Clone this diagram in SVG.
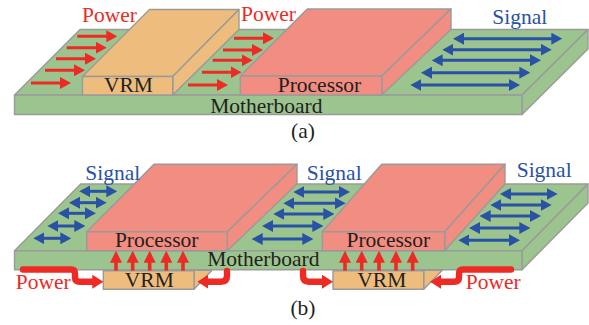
<svg xmlns="http://www.w3.org/2000/svg" width="589" height="325" viewBox="0 0 589 325">
<style>
.b{fill:#9bc48e;stroke:#9a9a9a;stroke-width:1.4;stroke-linejoin:round}
.o{fill:#eebd7e;stroke:#9a9a9a;stroke-width:1.4;stroke-linejoin:round}
.p{fill:#f28d82;stroke:#9a9a9a;stroke-width:1.4;stroke-linejoin:round}
text{font-family:"Liberation Serif","Times New Roman",serif;font-size:21.5px;fill:#231f20}
.r{fill:#ee2a24}
.s{fill:#2a52a4}
.rl{stroke:#ee2a24;stroke-width:3;fill:none}
.bl{stroke:#2a52a4;stroke-width:3;fill:none}
.up{stroke:#ee2a24;stroke-width:3.6;fill:none}
.th{stroke:#ee2a24;stroke-width:6.4;fill:none;stroke-linecap:round;stroke-linejoin:round}
</style>
<defs>
<marker id="mr" markerUnits="userSpaceOnUse" markerWidth="11" markerHeight="12" refX="5" refY="6" orient="auto"><path d="M0 0L11 6L0 12Z" fill="#ee2a24"/></marker>
<marker id="mu" markerUnits="userSpaceOnUse" markerWidth="12" markerHeight="12" refX="6" refY="6" orient="auto"><path d="M0 0L12 6L0 12Z" fill="#ee2a24"/></marker>
<marker id="mt" markerUnits="userSpaceOnUse" markerWidth="11" markerHeight="14" refX="3" refY="7" orient="auto"><path d="M0 0L11 7L0 14Z" fill="#ee2a24"/></marker>
<marker id="me" markerUnits="userSpaceOnUse" markerWidth="11" markerHeight="12" refX="5" refY="6" orient="auto-start-reverse"><path d="M0 0L11 6L0 12Z" fill="#2a52a4"/></marker>
</defs>

<g id="board-a">
<path class="b" d="M14.5 95L80 29.5H588L522 95Z"/>
<path class="b" d="M522 95L588 29.5V49L522 114.5Z"/>
<rect class="b" x="14.5" y="95" width="507.5" height="19.5"/>
<text x="266.300" y="113" text-anchor="middle">Motherboard</text>
</g>
<g id="vrm-a">
<path class="o" d="M82.5 76.5L149.5 9.5H239L172.7 76.5Z"/>
<path class="o" d="M172.7 76.5L239 9.5V29.5L172.7 95Z"/>
<rect class="o" x="82.5" y="76.5" width="90.2" height="18.5"/>
<text x="128.500" y="92.300" text-anchor="middle">VRM</text>
</g>
<g id="processor-a">
<path class="p" d="M240.3 76L307.3 9H451L381.7 76Z"/>
<path class="p" d="M381.7 76L451 9V29.5L381.7 95Z"/>
<rect class="p" x="240.3" y="76" width="141.4" height="19"/>
<text x="319.500" y="91.700" text-anchor="middle">Processor</text>
</g>

<g id="board-b">
<path class="b" d="M14.5 250.7L80.7 184H588L522 250.7Z"/>
<path class="b" d="M522 250.7L588 184V203L522 269.7Z"/>
<rect class="b" x="14.5" y="250.7" width="507.5" height="19"/>
<text x="263.300" y="265.700" text-anchor="middle">Motherboard</text>
</g>
<g id="processor-b1">
<path class="p" d="M86.7 231.7L154 164.3H297L227.3 231.7Z"/>
<path class="p" d="M227.3 231.7L297 164.3V184L227.3 250.7Z"/>
<rect class="p" x="86.7" y="231.7" width="140.6" height="19"/>
<text x="156.700" y="246.700" text-anchor="middle">Processor</text>
</g>
<g id="processor-b2">
<path class="p" d="M322.3 231.7L381.7 164.3H505L444.7 231.7Z"/>
<path class="p" d="M444.7 231.7L505 164.3V184L444.7 250.7Z"/>
<rect class="p" x="322.3" y="231.7" width="122.4" height="19"/>
<text x="388.300" y="246.700" text-anchor="middle">Processor</text>
</g>
<g id="vrm-b1">
<path class="o" d="M194 270.2H212L194 289.3Z"/>
<rect class="o" x="103.3" y="270.7" width="90.7" height="18.6"/>
<text x="149.300" y="286.700" text-anchor="middle">VRM</text>
</g>
<g id="vrm-b2">
<path class="o" d="M423.7 270.2H442.3L423.7 289.3Z"/>
<rect class="o" x="333" y="270.7" width="90.7" height="18.6"/>
<text x="381.800" y="286.700" text-anchor="middle">VRM</text>
</g>

<g id="connectors">
<g>
<path class="rl" marker-end="url(#mr)" d="M31 83H65"/>
<path class="rl" marker-end="url(#mr)" d="M45 70.3H79"/>
<path class="rl" marker-end="url(#mr)" d="M56 58.7H90"/>
<path class="rl" marker-end="url(#mr)" d="M66.7 47.7H100.700"/>
<path class="rl" marker-end="url(#mr)" d="M77.3 36.3H111.300"/>
<path class="rl" marker-end="url(#mr)" d="M188 85H222"/>
<path class="rl" marker-end="url(#mr)" d="M202 72.3H235.500"/>
<path class="rl" marker-end="url(#mr)" d="M212.7 60.3H246.700"/>
<path class="rl" marker-end="url(#mr)" d="M223 50H257"/>
<path class="rl" marker-end="url(#mr)" d="M234 38.3H268"/>
</g>
<g>
<path class="bl" marker-start="url(#me)" marker-end="url(#me)" d="M416.300 85H514"/>
<path class="bl" marker-start="url(#me)" marker-end="url(#me)" d="M427 72.7H524.300"/>
<path class="bl" marker-start="url(#me)" marker-end="url(#me)" d="M437.700 60.3H535"/>
<path class="bl" marker-start="url(#me)" marker-end="url(#me)" d="M448.300 49.7H545.700"/>
<path class="bl" marker-start="url(#me)" marker-end="url(#me)" d="M459 38.7H556.300"/>
<path class="bl" marker-start="url(#me)" marker-end="url(#me)" d="M39.300 238.3H65.300"/>
<path class="bl" marker-start="url(#me)" marker-end="url(#me)" d="M53.300 226H79.300"/>
<path class="bl" marker-start="url(#me)" marker-end="url(#me)" d="M64 213.3H90"/>
<path class="bl" marker-start="url(#me)" marker-end="url(#me)" d="M75 202.7H100.700"/>
<path class="bl" marker-start="url(#me)" marker-end="url(#me)" d="M85.300 191.3H111.300"/>
<path class="bl" marker-start="url(#me)" marker-end="url(#me)" d="M257.700 239H307.300"/>
<path class="bl" marker-start="url(#me)" marker-end="url(#me)" d="M268 226H317.300"/>
<path class="bl" marker-start="url(#me)" marker-end="url(#me)" d="M279.300 214H328.300"/>
<path class="bl" marker-start="url(#me)" marker-end="url(#me)" d="M289.300 203.3H339.700"/>
<path class="bl" marker-start="url(#me)" marker-end="url(#me)" d="M299.300 192H344"/>
<path class="bl" marker-start="url(#me)" marker-end="url(#me)" d="M464.300 240.3H514"/>
<path class="bl" marker-start="url(#me)" marker-end="url(#me)" d="M475 228H524.300"/>
<path class="bl" marker-start="url(#me)" marker-end="url(#me)" d="M485.700 216H535"/>
<path class="bl" marker-start="url(#me)" marker-end="url(#me)" d="M496.300 205H545.700"/>
<path class="bl" marker-start="url(#me)" marker-end="url(#me)" d="M506 194H551.700"/>
</g>
<g>
<path class="up" marker-end="url(#mu)" d="M116 270.7V256.700"/>
<path class="up" marker-end="url(#mu)" d="M132.7 270.7V256.700"/>
<path class="up" marker-end="url(#mu)" d="M149.7 270.7V256.700"/>
<path class="up" marker-end="url(#mu)" d="M166.3 270.7V256.700"/>
<path class="up" marker-end="url(#mu)" d="M183 270.7V256.700"/>
<path class="up" marker-end="url(#mu)" d="M345 270.7V256.700"/>
<path class="up" marker-end="url(#mu)" d="M361.7 270.7V256.700"/>
<path class="up" marker-end="url(#mu)" d="M379 270.7V256.700"/>
<path class="up" marker-end="url(#mu)" d="M396 270.7V256.700"/>
<path class="up" marker-end="url(#mu)" d="M412.7 270.7V256.700"/>
</g>
<g>
<path class="th" marker-end="url(#mt)" d="M23 269.500H71Q75 269.500 75 273.500V277.500Q75 281.700 80 281.700H95.300"/>
<path class="th" marker-end="url(#mt)" d="M227 271V275.500Q227 281.700 221 281.700H205.300"/>
<path class="th" marker-end="url(#mt)" d="M303 271V275.500Q303 281.700 309 281.700H325"/>
<path class="th" marker-end="url(#mt)" d="M511 269.500H463Q459 269.500 459 273.500V277.500Q459 281.700 454 281.700H438"/>
</g>
</g>

<text class="r" x="82" y="21.700">Power</text>
<text class="r" x="241" y="20.700">Power</text>
<text class="s" x="492.300" y="24">Signal</text>
<text x="303" y="138" text-anchor="middle">(a)</text>
<text class="s" x="85.300" y="180">Signal</text>
<text class="s" x="306.700" y="179.500">Signal</text>
<text class="s" x="516.700" y="176.700">Signal</text>
<text class="r" x="15.700" y="289">Power</text>
<text class="r" x="465.700" y="289.300">Power</text>
<text x="303" y="315" text-anchor="middle">(b)</text>
</svg>
